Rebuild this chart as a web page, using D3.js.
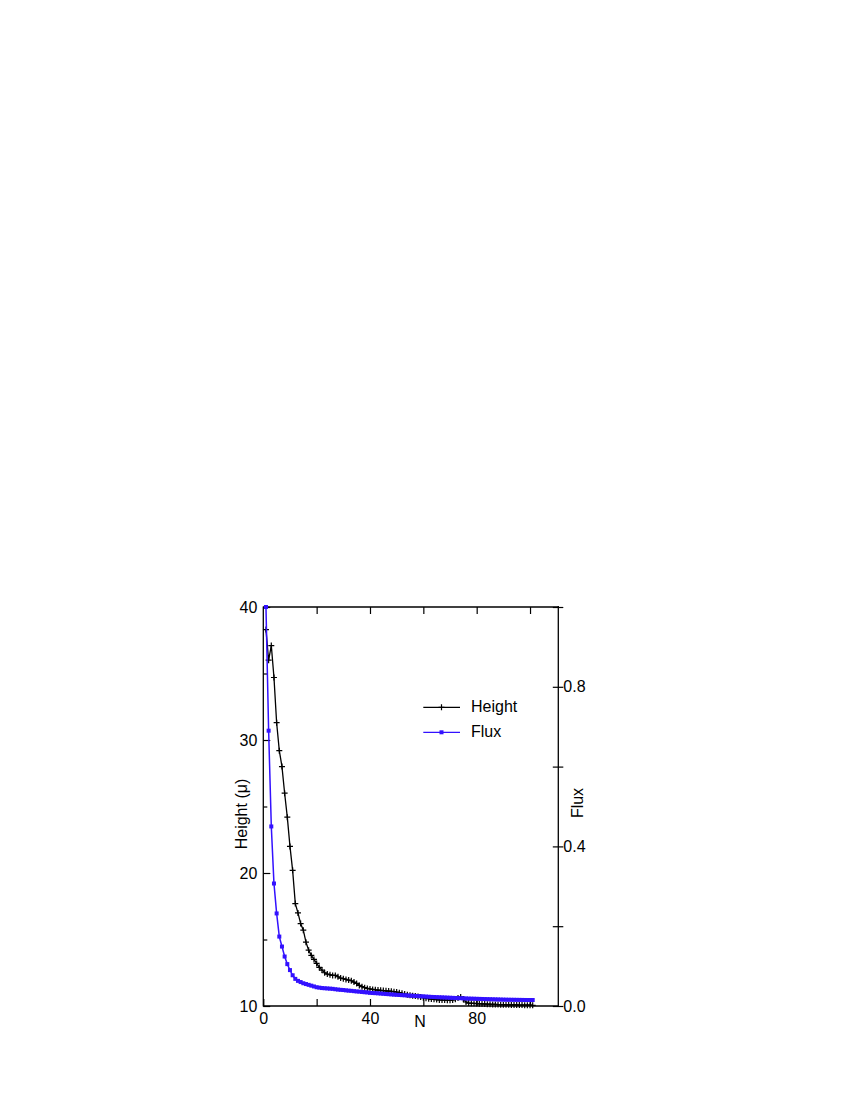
<!DOCTYPE html>
<html>
<head>
<meta charset="utf-8">
<script src="https://cdn.jsdelivr.net/npm/d3@7"></script>
<style>
  body { margin: 0; background: #fff; }
  svg text { font-family: "Liberation Sans", Arial, sans-serif; font-size: 16px; fill: #000; }
</style>
</head>
<body>
<svg width="850" height="1100"></svg>
<script>

// cycle number
var N = [1,2,3,4,5,6,7,8,9,10,11,12,13,14,15,16,17,18,19,20,
         21,22,23,24,25,26,27,28,29,30,31,32,33,34,35,36,37,38,39,40,
         41,42,43,44,45,46,47,48,49,50,51,52,53,54,55,56,57,58,59,60,
         61,62,63,64,65,66,67,68,69,70,71,72,73,74,75,76,77,78,79,80,
         81,82,83,84,85,86,87,88,89,90,91,92,93,94,95,96,97,98,99,100,101];

// Height (left axis)
var height = [38.3,36.0,37.1,34.7,31.3,29.2,28.0,26.0,24.2,22.0,
              20.2,17.7,17.0,16.2,15.7,14.8,14.2,13.8,13.5,13.2,
              12.9,12.7,12.5,12.4,12.35,12.3,12.3,12.2,12.1,12.05,
              12.0,11.95,11.9,11.8,11.7,11.55,11.45,11.38,11.32,11.28,
              11.25,11.22,11.2,11.18,11.16,11.14,11.12,11.1,11.08,11.05,
              11.0,10.95,10.9,10.85,10.8,10.78,10.75,10.72,10.68,10.62,
              10.58,10.55,10.52,10.5,10.48,10.46,10.45,10.45,10.44,10.44,
              10.45,10.5,10.6,10.68,10.5,10.3,10.22,10.2,10.2,10.18,
              10.17,10.16,10.15,10.14,10.13,10.12,10.12,10.11,10.1,10.1,
              10.09,10.09,10.08,10.08,10.08,10.07,10.07,10.06,10.06,10.06,10.05];

// Flux (right axis)
var flux = [1.0,0.69,0.45,0.307,0.232,0.174,0.149,0.124,0.105,0.09,
            0.077,0.068,0.063,0.06,0.057,0.055,0.053,0.051,0.049,0.047,
            0.046,0.045,0.0445,0.044,0.0435,0.043,0.042,0.0412,0.0405,0.04,
            0.0392,0.0385,0.038,0.0372,0.0365,0.036,0.0352,0.0345,0.034,0.033,
            0.0325,0.0322,0.0318,0.0312,0.0306,0.03,0.0296,0.029,0.0285,0.028,
            0.0276,0.0272,0.0268,0.0265,0.026,0.0256,0.0252,0.0248,0.0244,0.024,
            0.0236,0.0232,0.0228,0.0225,0.0222,0.0219,0.0216,0.0213,0.021,0.0207,
            0.0204,0.0201,0.0198,0.0195,0.0192,0.0189,0.0186,0.0184,0.0182,0.018,
            0.0178,0.0176,0.0174,0.0172,0.017,0.0168,0.0166,0.0164,0.0162,0.016,
            0.0158,0.0157,0.0156,0.0155,0.0154,0.0153,0.0152,0.0151,0.015,0.015,0.015];

var xTicks = [0,20,40,60,80,100],
    xLabels = [0,40,80],
    hMajor = [10,20,30,40],
    hMinor = [15,25,35],
    fTicks = [0,0.2,0.4,0.6,0.8,1.0],
    fLabels = [0,0.4,0.8];

(function () {

var BLUE = "#3311ff";

var svg = d3.select("svg");
var x0 = 263.3, x1 = 558.3, y0 = 607, y1 = 1006;

var x = d3.scaleLinear().domain([0, 110.6]).range([x0, x1]);
var yH = d3.scaleLinear().domain([10, 40]).range([y1, y0]);
var yF = d3.scaleLinear().domain([0, 1]).range([y1, y0]);

// frame (top line)
svg.append("line")
    .attr("x1", x0).attr("x2", x1)
    .attr("y1", y0).attr("y2", y0)
    .attr("stroke", "#000").attr("stroke-width", 1.3);

// bottom axis
var gx = svg.append("g").attr("transform", "translate(0," + y1 + ")")
    .call(d3.axisBottom(x).tickValues(xTicks).tickSize(-7).tickPadding(7)
        .tickFormat(function(d) { return xLabels.indexOf(d) >= 0 ? d : ""; }));
gx.select(".domain").remove();
gx.append("line").attr("x1", x0).attr("x2", x1).attr("stroke", "#000").attr("stroke-width", 1.3);

// top ticks
var gt = svg.append("g").attr("transform", "translate(0," + y0 + ")")
    .call(d3.axisTop(x).tickValues(xTicks.slice(1)).tickSize(-7).tickFormat(""));
gt.select(".domain").remove();

// left axis
var gl = svg.append("g").attr("transform", "translate(" + x0 + ",0)")
    .call(d3.axisLeft(yH).tickValues(hMajor).tickSize(-7).tickPadding(6));
gl.select(".domain").remove();
gl.append("line").attr("y1", y0 - 0.6).attr("y2", y1 + 0.6).attr("stroke", "#000").attr("stroke-width", 1.3);
var glm = svg.append("g").attr("transform", "translate(" + x0 + ",0)")
    .call(d3.axisLeft(yH).tickValues(hMinor).tickSize(-4).tickFormat(""));
glm.select(".domain").remove();

// right axis (ticks cross the line)
var gr = svg.append("g").attr("transform", "translate(" + x1 + ",0)")
    .call(d3.axisRight(yF).tickValues(fTicks).tickSize(5).tickPadding(0)
        .tickFormat(function(d) { return fLabels.indexOf(d) >= 0 ? d3.format(".1f")(d) : ""; }));
gr.select(".domain").remove();
gr.selectAll(".tick line").attr("x1", -5.5);
gr.append("line").attr("y1", y0 - 1).attr("y2", y1 + 0.6).attr("stroke", "#000").attr("stroke-width", 1.3);

svg.selectAll(".tick line").attr("stroke", "#000").attr("stroke-width", 1.2);
svg.selectAll("g").attr("font-size", null).attr("font-family", null);

// axis titles
svg.append("text").attr("x", 420).attr("y", 1027).attr("text-anchor", "middle").text("N");
svg.append("text").attr("transform", "translate(247,814) rotate(-90)")
    .attr("text-anchor", "middle").text("Height (\u03bc)");
svg.append("text").attr("transform", "translate(582.5,803) rotate(-90)")
    .attr("text-anchor", "middle").text("Flux");

// Height series
var lineH = d3.line().x(function(d, i) { return x(N[i]); }).y(function(d) { return yH(d); });
svg.append("path").datum(height).attr("d", lineH)
    .attr("fill", "none").attr("stroke", "#000").attr("stroke-width", 1.3);
svg.append("g").selectAll("path").data(height).enter().append("path")
    .attr("d", function(d, i) {
      var cx = x(N[i]), cy = yH(d);
      return "M" + (cx - 3) + "," + cy + "H" + (cx + 3) + "M" + cx + "," + (cy - 3) + "V" + (cy + 3);
    })
    .attr("stroke", "#000").attr("stroke-width", 1.2);

// Flux series
var lineF = d3.line().x(function(d, i) { return x(N[i]); }).y(function(d) { return yF(d); });
svg.append("path").datum(flux).attr("d", lineF)
    .attr("fill", "none").attr("stroke", BLUE).attr("stroke-width", 1.5);
svg.append("g").selectAll("rect").data(flux).enter().append("rect")
    .attr("x", function(d, i) { return x(N[i]) - 2; })
    .attr("y", function(d) { return yF(d) - 2; })
    .attr("width", 4).attr("height", 4)
    .attr("fill", BLUE);

// legend
var legend = [
  { name: "Height", y: 707.3, color: "#000", mark: "cross" },
  { name: "Flux", y: 732.3, color: BLUE, mark: "square" }
];
legend.forEach(function(l) {
  svg.append("line").attr("x1", 423.3).attr("x2", 460).attr("y1", l.y).attr("y2", l.y)
      .attr("stroke", l.color).attr("stroke-width", 1.3);
  if (l.mark === "cross")
    svg.append("path").attr("d", "M438.5," + l.y + "H444.5M441.5," + (l.y - 3) + "V" + (l.y + 3))
        .attr("stroke", l.color).attr("stroke-width", 1.2);
  else
    svg.append("rect").attr("x", 439.5).attr("y", l.y - 2).attr("width", 4).attr("height", 4).attr("fill", l.color);
  svg.append("text").attr("x", 471).attr("y", l.y + 5).text(l.name);
});

})();

</script>
</body>
</html>
